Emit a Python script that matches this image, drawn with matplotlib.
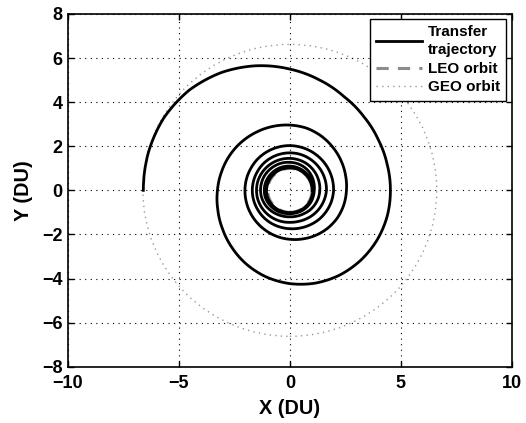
import matplotlib.pyplot as plt
from matplotlib.lines import Line2D
from matplotlib.projections.polar import PolarTransform
import numpy as np

plt.rcParams['font.family'] = ['Liberation Sans', 'DejaVu Sans']
plt.rcParams['font.weight'] = 'bold'
# simplification would run in (theta, r) space here and drop vertices
plt.rcParams['path.simplify'] = False

# radius of the transfer trajectory (DU), one row per revolution,
# sampled every 15 deg starting on the +X axis
rev1 = [1.00, 1.00, 1.01, 1.01, 1.01, 1.02, 1.02, 1.02, 1.03, 1.03, 1.04, 1.04,
        1.05, 1.05, 1.04, 1.03, 1.02, 1.01, 1.01, 1.01, 1.02, 1.02, 1.03, 1.03]
rev2 = [1.04, 1.05, 1.06, 1.07, 1.08, 1.09, 1.10, 1.11, 1.12, 1.13, 1.14, 1.15,
        1.15, 1.15, 1.13, 1.11, 1.09, 1.07, 1.06, 1.06, 1.07, 1.08, 1.09, 1.09]
rev3 = [1.10, 1.13, 1.17, 1.21, 1.24, 1.26, 1.27, 1.29, 1.30, 1.31, 1.32, 1.32,
        1.32, 1.31, 1.29, 1.26, 1.23, 1.21, 1.20, 1.21, 1.23, 1.27, 1.30, 1.33]
rev4 = [1.35, 1.37, 1.39, 1.41, 1.43, 1.44, 1.45, 1.46, 1.47, 1.48, 1.49, 1.50,
        1.50, 1.50, 1.49, 1.48, 1.47, 1.46, 1.45, 1.46, 1.49, 1.53, 1.57, 1.61]
rev5 = [1.65, 1.66, 1.67, 1.68, 1.69, 1.70, 1.70, 1.70, 1.70, 1.70, 1.69, 1.69,
        1.69, 1.69, 1.69, 1.70, 1.71, 1.72, 1.74, 1.77, 1.81, 1.86, 1.90, 1.94]
rev6 = [1.97, 1.98, 1.99, 2.00, 2.01, 2.02, 2.03, 2.03, 2.03, 2.03, 2.02, 2.02,
        2.02, 2.03, 2.05, 2.08, 2.12, 2.17, 2.22, 2.28, 2.35, 2.42, 2.48, 2.52]
rev7 = [2.55, 2.60, 2.67, 2.75, 2.84, 2.92, 2.96, 3.00, 3.04, 3.09, 3.14, 3.19,
        3.26, 3.36, 3.50, 3.68, 3.88, 4.07, 4.23, 4.36, 4.45, 4.50, 4.53, 4.54]
rev8 = [4.53, 4.54, 4.60, 4.72, 4.90, 5.18, 5.50, 5.85, 6.17, 6.42, 6.56, 6.60, 6.60]

leo_radius = 1.0
geo_radius = 6.62

r = np.array(rev1 + rev2 + rev3 + rev4 + rev5 + rev6 + rev7 + rev8)
theta = np.deg2rad(15.0 * np.arange(len(r)))

fig = plt.figure(figsize=(5.26, 4.23), dpi=100)
ax = fig.add_axes([0.129, 0.133, 0.844, 0.834])

# plot (theta, r) through a polar transform so the segments are drawn as
# spiral arcs instead of straight chords (same trick matplotlib uses for
# its own polar grid lines)
polar = PolarTransform() + ax.transData
traj, = ax.plot(theta, r, color='black', lw=2.0, transform=polar)
traj.get_path()._interpolation_steps = 10
traj.set_data(theta, r)  # rebuild the cached path with the new steps

ax.add_patch(plt.Circle((0, 0), leo_radius, fill=False, ec='0.55', lw=2.2,
                        ls=(0, (4, 3))))
ax.add_patch(plt.Circle((0, 0), geo_radius, fill=False, ec='0.6', lw=1.0,
                        ls=(0, (1, 3))))

ax.set_xlim(-10, 10)
ax.set_ylim(-8, 8)
ax.set_xticks([-10, -5, 0, 5, 10])
ax.set_yticks(np.arange(-8, 9, 2))
ax.tick_params(direction='in', length=4, width=1, top=True, right=True,
               labelsize=13)
ax.tick_params(axis='x', pad=6)
ax.tick_params(axis='y', pad=4)
for s in ax.spines.values():
    s.set_linewidth(1.2)
ax.grid(True, color='black', ls=(0, (1, 4)), lw=0.8)

ax.set_xlabel('X (DU)', fontsize=14.3, fontweight='bold', labelpad=5)
ax.set_ylabel('Y (DU)', fontsize=14.3, fontweight='bold', labelpad=6)

handles = [Line2D([], [], color='black', lw=2.0),
           Line2D([], [], color='0.55', lw=2.2, ls=(0, (4, 3))),
           Line2D([], [], color='0.6', lw=1.0, ls=(0, (1, 3)))]
leg = ax.legend(handles, ['Transfer\ntrajectory', 'LEO orbit', 'GEO orbit'],
                loc='upper right', fancybox=False, framealpha=1,
                edgecolor='black', fontsize=11, handlelength=3.0,
                handletextpad=0.4, labelspacing=0.3, borderpad=0.4,
                borderaxespad=0.35)
leg.get_frame().set_linewidth(1.0)
for t in leg.get_texts():
    t.set_linespacing(1.35)

fig.savefig('out.png', dpi=100)
